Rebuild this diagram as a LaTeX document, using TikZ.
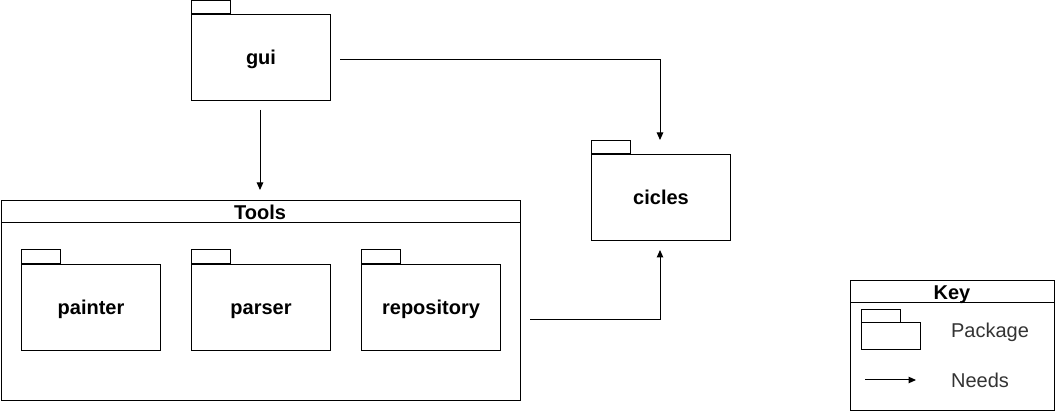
\documentclass[tikz,border=0pt]{standalone}
\usepackage{fontspec}
\setmainfont{Liberation Sans}
\usetikzlibrary{arrows.meta}
\begin{document}
\begin{tikzpicture}[x=1pt,y=-1pt,
  line width=1pt,
  box/.style={draw=black, anchor=north west, inner sep=0pt},
  pkgbody/.style={box, minimum width=139pt, minimum height=86pt},
  lbl/.style={font=\fontsize{20}{23}\selectfont\bfseries, text height=16pt, text depth=2.5pt, inner sep=0pt},
  klbl/.style={font=\fontsize{20}{23}\selectfont, text=black!80, text height=16pt, text depth=2.5pt, inner sep=0pt},
  needs/.style={-{Triangle[length=7.5pt,width=6.5pt]}},
]
\useasboundingbox (0,0) rectangle (1055,411);
% gui
\draw (191,1) rectangle (230,14);
\node[pkgbody] (gui) at (191,14) {};
\node[lbl] (guit) at (gui.center) {gui};
% cicles
\draw (591,141) rectangle (630,154);
\node[pkgbody] (cic) at (591,154) {};
\node[lbl] (cict) at (cic.center) {cicles};
% Tools frame
\node[box, minimum width=519pt, minimum height=200pt] (tools) at (1,200) {};
\draw (tools.north west) ++(0,23) -- ++(519,0);
\node[lbl] (toolst) at (260,212.5) {Tools};
% inner packages
\draw (21,250) rectangle (60,264);
\node[pkgbody] (painter) at (21,264) {};
\node[lbl] (paintert) at (painter.center) {painter};
\draw (191,250) rectangle (230,264);
\node[pkgbody] (parser) at (191,264) {};
\node[lbl] (parsert) at (parser.center) {parser};
\draw (361,250) rectangle (400,264);
\node[pkgbody] (repo) at (361,264) {};
\node[lbl] (repot) at (repo.center) {repository};
% connectors
\coordinate (g1) at (260,110);
\coordinate (g2) at (260,190);
\draw[needs] (g1) -- (g2);
\coordinate (c1) at (340,60);
\coordinate (c2) at (660,140);
\draw[needs] (c1) -| (c2);
\coordinate (r1) at (530,320);
\coordinate (r2) at (660,250);
\draw[needs] (r1) -| (r2);
% Key
\node[box, minimum width=204pt, minimum height=130pt] (key) at (850,280) {};
\draw (key.north west) ++(0,23) -- ++(204,0);
\node[lbl] (keyt) at (952,292.5) {Key};
\draw (861,310) rectangle (900,323);
\draw (861,323) rectangle (920,350);
\node[klbl] (kp) at (990,331) {Package};
\coordinate (k1) at (865,380);
\coordinate (k2) at (916,380);
\draw[needs] (k1) -- (k2);
\node[klbl] (kn) at (980,381) {Needs};
\end{tikzpicture}
\end{document}
